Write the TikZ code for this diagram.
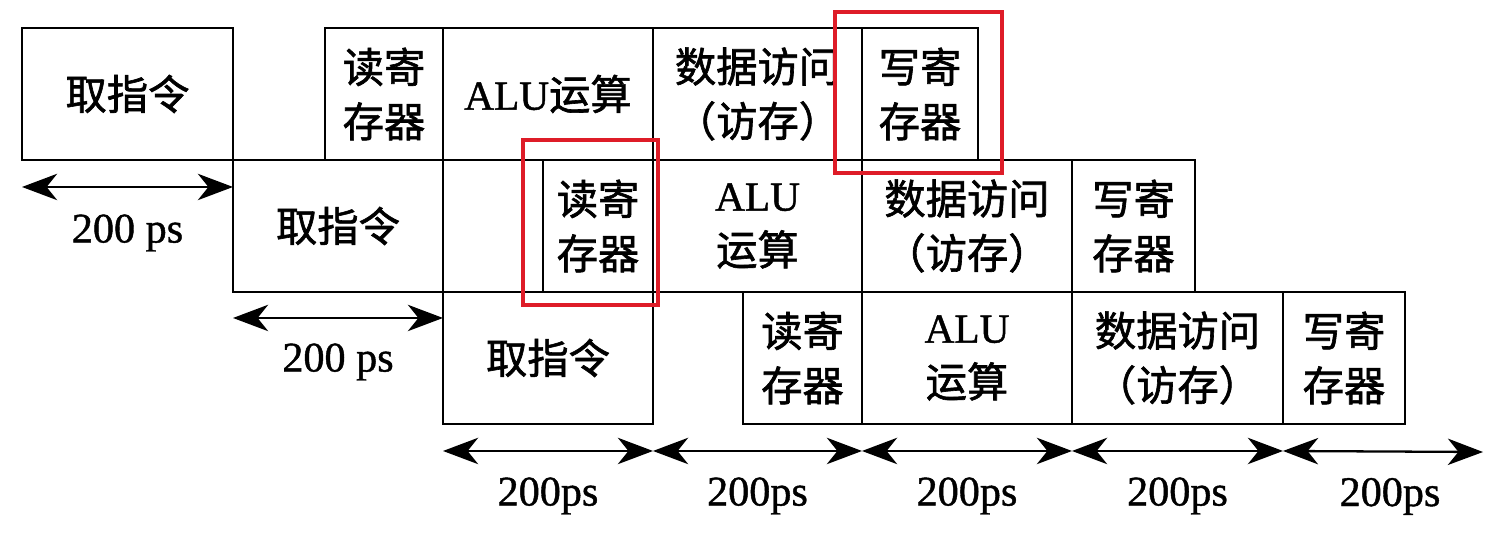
\documentclass[tikz,border=0pt]{standalone}
\usepackage{fontspec}
\setmainfont{Liberation Serif}[FakeBold=1]
\newfontfamily\cjk{Noto Sans CJK SC}[FakeBold=1.5]
\usetikzlibrary{arrows.meta,calc}
\definecolor{hired}{RGB}{222,28,40}
\newcommand\lat[1]{{\rmfamily #1}}

\tikzset{
	stage/.style={draw, line width=1.6pt, inner sep=0pt, outer sep=0pt, anchor=north west,
		minimum height=2.64cm, align=center, font=\cjk\fontsize{23.5}{31}\selectfont},
	span/.style={{Stealth[length=20pt,width=15pt,inset=6pt]}-{Stealth[length=20pt,width=15pt,inset=6pt]}, line width=1.3pt},
	spanlabel/.style={font=\fontsize{24}{28}\selectfont},
	hilite/.style={draw=hired, line width=1.8pt}
}

\begin{document}
\begin{tikzpicture}[x=0.02cm, y=-0.02cm]
	\useasboundingbox[fill=white] (0,0) rectangle (1512,542);
	
	% three overlapped instructions, one row each
	\foreach \name/\xa/\xb/\ytop/\txt in
	{r1if/22/233/28/{取指令}, r1rr/325/443/28/{读寄\\存器}, r1alu/443/653/28/{\lat{ALU}运算},
		r1mem/653/862/28/{数据访问\\（访存）}, r1wb/862/978/28/{写寄\\存器},
		r2if/233/443/160/{取指令}, r2rr/543/653/160/{读寄\\存器}, r2alu/653/862/160/{\lat{ALU}\\运算},
		r2mem/862/1072/160/{数据访问\\（访存）}, r2wb/1072/1195/160/{写寄\\存器},
		r3if/443/653/292/{取指令}, r3rr/743/862/292/{读寄\\存器}, r3alu/862/1072/292/{\lat{ALU}\\运算},
		r3mem/1072/1283/292/{数据访问\\（访存）}, r3wb/1283/1405/292/{写寄\\存器}}{
		\node[stage, minimum width={0.02cm*(\xb-\xa)}] (\name) at (\xa,\ytop) {\txt};
	}
	
	% offsets between the instructions
	\coordinate (a1l) at ([yshift=-0.54cm]r1if.south west);
	\coordinate (a1r) at ([yshift=-0.54cm]r1if.south east);
	\coordinate (a2l) at ([yshift=-0.52cm]r2if.south west);
	\coordinate (a2r) at ([yshift=-0.52cm]r2if.south east);
	\draw[span] (a1l) -- (a1r);
	\draw[span] (a2l) -- (a2r);
	\node[spanlabel] (l1) at ($(a1l)!0.5!(a1r)+(0,46)$) {200 ps};
	\node[spanlabel] (l2) at ($(a2l)!0.5!(a2r)+(0,44)$) {200 ps};
	
	% stage time line
	\coordinate (t0) at ([yshift=-0.54cm]r3if.south west);
	\coordinate (t1) at ([yshift=-0.54cm]r3if.south east);
	\coordinate (t2) at ([yshift=-0.54cm]r3rr.south east);
	\coordinate (t3) at ([yshift=-0.54cm]r3alu.south east);
	\coordinate (t4) at ([yshift=-0.54cm]r3mem.south east);
	\coordinate (t5) at (1483,452);
	\foreach \a/\b/\dx in {t0/t1/0, t1/t2/0, t2/t3/0, t3/t4/0, t4/t5/7}{
		\draw[span] (\a) -- (\b);
		\node[spanlabel] (lab\a) at ($(\a)!0.5!(\b)+(\dx,45)$) {200ps};
	}
	
	% highlighted stages
	\draw[hilite] ([xshift=-0.54cm,yshift=0.32cm]r1wb.north west) rectangle ([xshift=0.48cm,yshift=-0.26cm]r1wb.south east);
	\draw[hilite] ([xshift=-0.4cm,yshift=0.4cm]r2rr.north west) rectangle ([xshift=0.1cm,yshift=-0.26cm]r2rr.south east);
\end{tikzpicture}
\end{document}
